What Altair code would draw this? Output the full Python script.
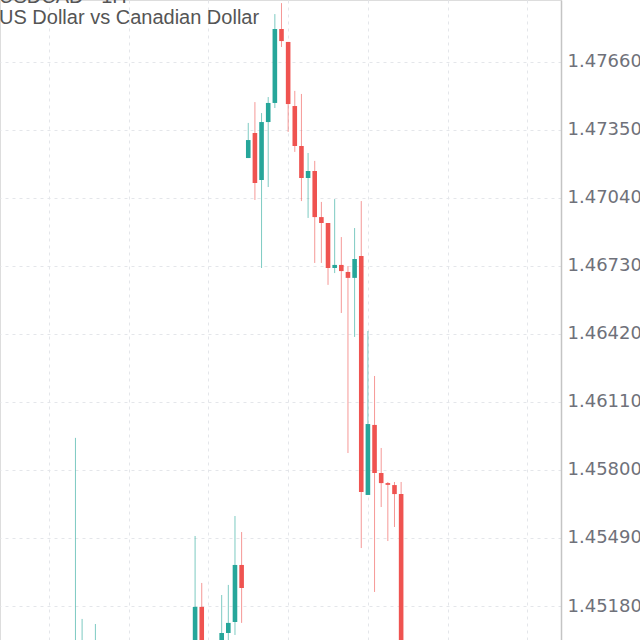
import altair as alt
import pandas as pd

# Hourly USD/CAD candles (index = bar number from the first visible bar)
bar_idx = [0, 1, 3, 18, 19, 22, 23, 24, 25, 26, 27, 28, 29, 30, 31, 32, 33, 34, 35,
           36, 37, 38, 39, 40, 41, 42, 43, 44, 45, 46, 47, 48, 49]
open_ = [1.44960, 1.44950, 1.44940, 1.44980, 1.45176, 1.44980, 1.45057, 1.45107, 1.45367,
         1.47221, 1.47335, 1.47121, 1.47385, 1.47472, 1.47809, 1.47750, 1.47458, 1.47276,
         1.47130, 1.47162, 1.46952, 1.46925, 1.46720, 1.46734, 1.46702, 1.46675, 1.46775,
         1.45686, 1.46005, 1.45786, 1.45740, 1.45731, 1.45690]
high = [1.45946, 1.45121, 1.45098, 1.45499, 1.45285, 1.45230, 1.45276, 1.45590, 1.45517,
        1.47381, 1.47476, 1.47426, 1.47499, 1.47877, 1.47927, 1.47750, 1.47527, 1.47513,
        1.47244, 1.47208, 1.47021, 1.46925, 1.47034, 1.46861, 1.46729, 1.46902, 1.47025,
        1.46433, 1.46228, 1.45900, 1.45745, 1.45745, 1.45745]
low = [1.44920, 1.44930, 1.44910, 1.44950, 1.44960, 1.44960, 1.45010, 1.45048, 1.45103,
       1.47221, 1.47030, 1.46720, 1.47089, 1.47449, 1.47727, 1.47340, 1.47249, 1.47025,
       1.46948, 1.46743, 1.46743, 1.46643, 1.46697, 1.46515, 1.45877, 1.46406, 1.45444,
       1.45686, 1.45244, 1.45631, 1.45476, 1.45540, 1.44950]
close = [1.44990, 1.44985, 1.44990, 1.45176, 1.44990, 1.45057, 1.45103, 1.45367, 1.45262,
         1.47303, 1.47107, 1.47385, 1.47472, 1.47809, 1.47754, 1.47467, 1.47276, 1.47130,
         1.47162, 1.46952, 1.46925, 1.46720, 1.46734, 1.46706, 1.46675, 1.46761, 1.45699,
         1.46009, 1.45786, 1.45740, 1.45732, 1.45690, 1.44990]

price_ticks = [1.45180, 1.45490, 1.45800, 1.46110, 1.46420, 1.46730, 1.47040, 1.47350, 1.47660]
cut_tick = [1.47970]
time_grid = [-4, 8, 20, 32, 44, 56, 68]
header_lines = ["USDCAD · 1H", "US Dollar vs Canadian Dollar"]

TEAL = "#26a69a"
RED = "#ef5350"

df = pd.DataFrame({"i": bar_idx, "open": open_, "high": high, "low": low, "close": close})
df["dir"] = ["up" if c >= o else "down" for o, c in zip(open_, close)]

x_scale = alt.Scale(domain=[-10.6, 72.3], nice=False, zero=False)
y_scale = alt.Scale(domain=[1.450251, 1.479411], nice=False, zero=False)
color_scale = alt.Scale(domain=["up", "down"], range=[TEAL, RED])

x_enc = alt.X("i:Q", scale=x_scale,
              axis=alt.Axis(values=time_grid, grid=True, labels=False, ticks=False,
                            domain=False, title=None, gridDash=[3, 4], gridColor="#e4e6ea"))
y_axis = alt.Axis(values=price_ticks, format=".5f", orient="right", title=None,
                  grid=True, gridDash=[3, 4], gridColor="#e4e6ea", ticks=False,
                  domain=True, domainColor="#c4c4c4", domainWidth=1.5,
                  labelFont="DejaVu Sans", labelFontSize=18, labelColor="#6f717a",
                  labelPadding=6, labelOverlap=False)

base = alt.Chart(df)

wicks = base.mark_rule(strokeWidth=1, opacity=0.6).encode(
    x=x_enc,
    y=alt.Y("low:Q", scale=y_scale, axis=y_axis),
    y2="high:Q",
    color=alt.Color("dir:N", scale=color_scale, legend=None),
)

bodies = base.mark_bar(size=4.6).encode(
    x=alt.X("i:Q", scale=x_scale),
    y=alt.Y("open:Q", scale=y_scale),
    y2="close:Q",
    color=alt.Color("dir:N", scale=color_scale, legend=None),
)

cut_label = alt.Chart(pd.DataFrame({"v": cut_tick})).mark_text(
    align="left", baseline="middle", font="DejaVu Sans", fontSize=18, color="#6f717a"
).encode(
    x=alt.value(567),
    y=alt.Y("v:Q", scale=y_scale),
    text=alt.Text("v:Q", format=".5f"),
)

hdr = pd.DataFrame({"t": header_lines, "yy": [-3, 18], "ww": ["normal", "normal"]})
header = alt.Chart(hdr).mark_text(
    align="left", baseline="middle", font="Liberation Sans", fontSize=20, color="#555555"
).encode(
    x=alt.value(-1),
    y=alt.Y("yy:Q", scale=None),
    text="t:N",
)

chart = alt.layer(wicks, bodies, cut_label, header).properties(
    width=561, height=640,
    padding={"left": 0, "top": 0, "right": 79, "bottom": 0},
    autosize=alt.AutoSizeParams(type="none"),
).configure_view(stroke=None).configure(background="white")

chart.save("out.html", embed_options={"renderer": "svg", "actions": False})
